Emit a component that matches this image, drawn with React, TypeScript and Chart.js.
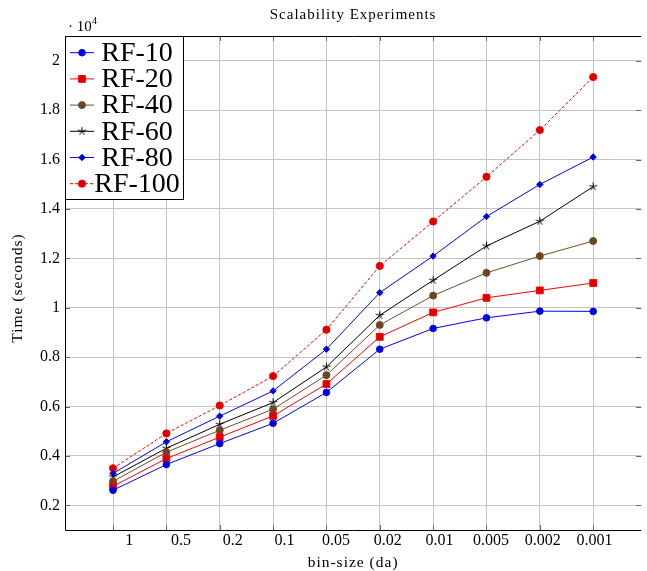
import React, { useEffect, useRef } from "react";
import { Chart, registerables } from "chart.js";
import { drawPoint } from "chart.js/helpers";

Chart.register(...registerables);

const categories = ["1", "0.5", "0.2", "0.1", "0.05", "0.02", "0.01", "0.005", "0.002", "0.001"];
const yTickValues = [2000, 4000, 6000, 8000, 10000, 12000, 14000, 16000, 18000, 20000];

const rf10 = [2610, 3650, 4500, 5320, 6570, 8320, 9160, 9590, 9860, 9850];
const rf20 = [2770, 3890, 4760, 5620, 6910, 8820, 9810, 10400, 10700, 11000];
const rf40 = [2970, 4150, 5040, 5890, 7270, 9300, 10490, 11410, 12090, 12700];
const rf60 = [3150, 4310, 5280, 6160, 7600, 9690, 11110, 12500, 13500, 14900];
const rf80 = [3290, 4570, 5610, 6630, 8320, 10610, 12090, 13690, 14990, 16100];
const rf100 = [3500, 4910, 6040, 7230, 9110, 11690, 13490, 15300, 17190, 19340];

const SERIF = "'Liberation Serif', 'DejaVu Serif', serif";

function pts(arr: number[]) {
  return arr.map((v, i) => ({ x: i, y: v }));
}

function makeStar(): HTMLCanvasElement {
  const c = document.createElement("canvas");
  c.width = 11;
  c.height = 11;
  const g = c.getContext("2d")!;
  g.strokeStyle = "#000";
  g.lineWidth = 1;
  g.beginPath();
  for (let k = 0; k < 5; k++) {
    const ang = -Math.PI / 2 + (k * 2 * Math.PI) / 5;
    g.moveTo(5.5, 5.5);
    g.lineTo(5.5 + 4.2 * Math.cos(ang), 5.5 + 4.2 * Math.sin(ang));
  }
  g.stroke();
  return c;
}

function spacedText(ctx: any, text: string, x: number, y: number, spacing: string) {
  ctx.letterSpacing = spacing;
  ctx.fillText(text, x, y);
  ctx.letterSpacing = "0px";
}

const overlayPlugin = {
  id: "overlay",
  afterDatasetsDraw(chart: any) {
    const ctx = chart.ctx;
    const a = chart.chartArea;
    const xs = chart.scales.x;
    const ys = chart.scales.y;
    ctx.save();
    // inner tick marks
    ctx.strokeStyle = "#666";
    ctx.lineWidth = 1;
    ctx.beginPath();
    categories.forEach((_, i) => {
      const px = Math.round(xs.getPixelForValue(i)) + 0.5;
      ctx.moveTo(px, a.bottom);
      ctx.lineTo(px, a.bottom - 5);
      ctx.moveTo(px, a.top);
      ctx.lineTo(px, a.top + 5);
    });
    yTickValues.forEach((v) => {
      const py = Math.round(ys.getPixelForValue(v)) + 0.5;
      ctx.moveTo(a.left, py);
      ctx.lineTo(a.left + 5, py);
      ctx.moveTo(a.right, py);
      ctx.lineTo(a.right - 5, py);
    });
    ctx.stroke();
    // frame
    ctx.strokeStyle = "#000";
    ctx.beginPath();
    ctx.moveTo(a.right, Math.round(a.top) + 0.5);
    ctx.lineTo(Math.round(a.left) + 0.5, Math.round(a.top) + 0.5);
    ctx.lineTo(Math.round(a.left) + 0.5, Math.round(a.bottom) + 0.5);
    ctx.lineTo(a.right, Math.round(a.bottom) + 0.5);
    ctx.stroke();

    // texts
    ctx.fillStyle = "#000";
    ctx.textAlign = "center";
    ctx.textBaseline = "middle";
    const cx = (a.left + a.right) / 2;
    ctx.font = `15px ${SERIF}`;
    spacedText(ctx, "Scalability Experiments", cx, 15, "1px");
    ctx.font = `15.5px ${SERIF}`;
    spacedText(ctx, "bin-size (da)", cx, 563, "1px");
    ctx.save();
    ctx.translate(18, 288);
    ctx.rotate(-Math.PI / 2);
    spacedText(ctx, "Time (seconds)", 0, 0, "1px");
    ctx.restore();
    ctx.textAlign = "left";
    ctx.font = `15px ${SERIF}`;
    ctx.fillText("\u00B7 10", 68, 27);
    ctx.font = `10px ${SERIF}`;
    ctx.fillText("4", 92, 21);

    // legend
    const lx = Math.round(a.left) + 0.5;
    const ly = Math.round(a.top) + 0.5;
    const lw = 118;
    const lh = 163;
    ctx.fillStyle = "#fff";
    ctx.fillRect(lx, ly, lw, lh);
    ctx.strokeStyle = "#000";
    ctx.lineWidth = 1;
    ctx.strokeRect(lx, ly, lw, lh);
    chart.data.datasets.forEach((ds: any, i: number) => {
      const yy = 52.7 + i * 26.2;
      ctx.save();
      ctx.strokeStyle = ds.borderColor;
      ctx.lineWidth = ds.borderWidth;
      ctx.setLineDash(ds.borderDash || []);
      ctx.beginPath();
      ctx.moveTo(70, yy);
      ctx.lineTo(94, yy);
      ctx.stroke();
      ctx.setLineDash([]);
      ctx.fillStyle = ds.pointBackgroundColor;
      ctx.strokeStyle = ds.pointBorderColor;
      ctx.lineWidth = 1;
      drawPoint(ctx, { pointStyle: ds.pointStyle, radius: ds.pointRadius, borderWidth: 1, rotation: 0 }, 82, yy);
      ctx.restore();
      ctx.fillStyle = "#000";
      ctx.textAlign = "center";
      ctx.textBaseline = "middle";
      ctx.font = `28px ${SERIF}`;
      ctx.fillText(ds.label, 137, yy + 1);
    });
    ctx.restore();
  },
};

function mk(label: string, data: number[], color: string, fill: string, style: any, radius: number, dash?: number[]) {
  return {
    label,
    data: pts(data),
    borderColor: color,
    backgroundColor: color,
    borderWidth: 1,
    borderDash: dash || [],
    pointStyle: style,
    pointRadius: radius,
    pointBackgroundColor: fill,
    pointBorderColor: color,
    pointBorderWidth: 1,
    tension: 0,
  };
}

export default function App() {
  const ref = useRef<HTMLCanvasElement>(null);
  useEffect(() => {
    if (!ref.current) return;
    const star = makeStar();
    const chart = new Chart(ref.current, {
      type: "line",
      data: {
        datasets: [
          mk("RF-10", rf10, "#0000ff", "#0000d8", "circle", 3.3),
          mk("RF-20", rf20, "#ff0000", "#d80000", "rect", 4.8),
          mk("RF-40", rf40, "#734d26", "#6a4522", "circle", 3.5),
          mk("RF-60", rf60, "#000000", "#000000", star, 4),
          mk("RF-80", rf80, "#0000ff", "#0000d8", "rectRot", 3.2),
          mk("RF-100", rf100, "#ff0000", "#d80000", "circle", 3.6, [3, 2]),
        ] as any,
      },
      options: {
        responsive: false,
        animation: false,
        layout: { padding: { top: 36, left: 0, right: 0, bottom: 0 } },
        plugins: { legend: { display: false }, title: { display: false }, tooltip: { enabled: false } },
        scales: {
          x: {
            type: "linear",
            position: "bottom",
            min: -0.9,
            max: 9.9,
            afterBuildTicks: (s: any) => {
              s.ticks = categories.map((_, i) => ({ value: i }));
            },
            afterFit: (s: any) => {
              s.height = 0;
            },
            ticks: { display: false },
            grid: { color: "#c4c4c4", lineWidth: 1, drawTicks: false },
            border: { display: false },
          },
          xl: {
            type: "linear",
            position: "bottom",
            min: -1.245,
            max: 9.904,
            afterBuildTicks: (s: any) => {
              s.ticks = categories.map((_, i) => ({ value: i }));
            },
            afterFit: (s: any) => {
              s.height = 41;
            },
            ticks: {
              callback: (v: any) => categories[Math.round(Number(v))] ?? "",
              font: { family: SERIF, size: 16 },
              color: "#000",
              padding: 1,
              maxRotation: 0,
              autoSkip: false,
            },
            grid: { display: false, drawTicks: false },
            border: { display: false },
          },
          y: {
            type: "linear",
            min: 1000,
            max: 21000,
            afterBuildTicks: (s: any) => {
              s.ticks = yTickValues.map((v) => ({ value: v }));
            },
            afterFit: (s: any) => {
              s.width = 65;
            },
            ticks: {
              callback: (v: any) => String(Number(v) / 10000),
              font: { family: SERIF, size: 16 },
              color: "#000",
              padding: 5,
              autoSkip: false,
            },
            grid: { color: "#c4c4c4", lineWidth: 1, drawTicks: false },
            border: { display: false },
          },
        },
      },
      plugins: [overlayPlugin],
    } as any);
    return () => chart.destroy();
  }, []);
  return (
    <div style={{ position: "absolute", left: 0, top: 0, width: 647, height: 571, background: "#fff" }}>
      <canvas ref={ref} width={647} height={571} style={{ display: "block" }} />
    </div>
  );
}
